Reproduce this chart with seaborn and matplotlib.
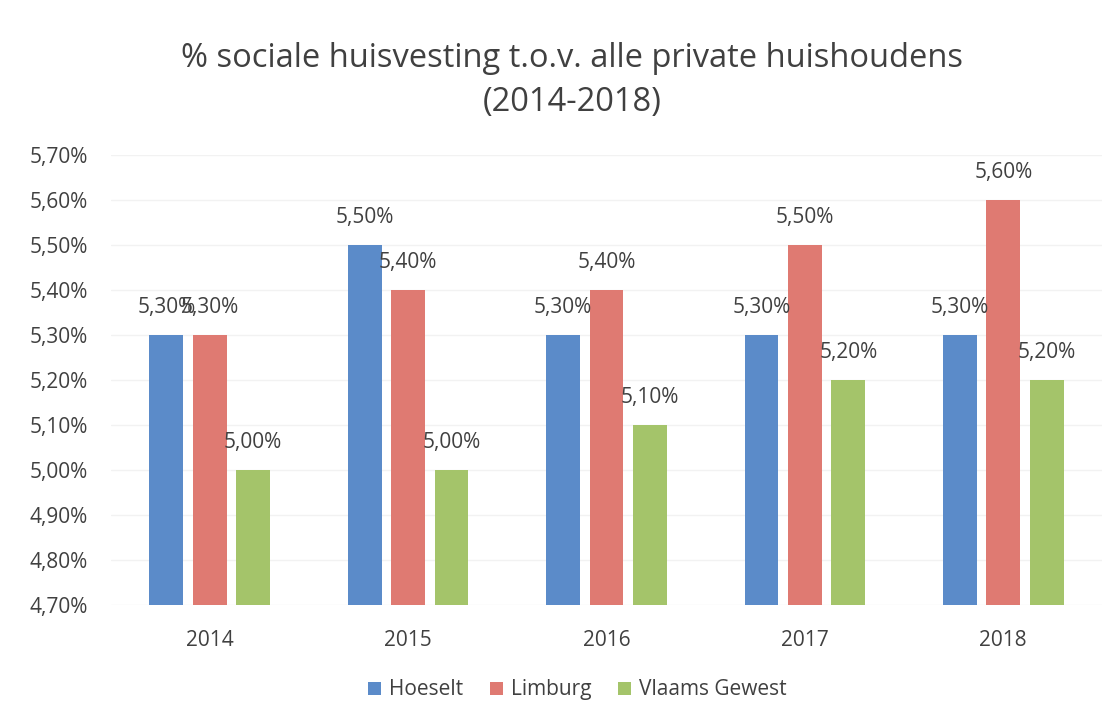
import matplotlib
matplotlib.use("Agg")
import matplotlib.pyplot as plt
import seaborn as sns
import pandas as pd

years = ["2014", "2015", "2016", "2017", "2018"]
regions = ["Hoeselt", "Limburg", "Vlaams Gewest"]
hoeselt = [5.30, 5.50, 5.30, 5.30, 5.30]
limburg = [5.30, 5.40, 5.40, 5.50, 5.60]
vlaams = [5.00, 5.00, 5.10, 5.20, 5.20]
yticks = [4.70, 4.80, 4.90, 5.00, 5.10, 5.20, 5.30, 5.40, 5.50, 5.60, 5.70]

colors = ["#5b8bc9", "#df7a72", "#a4c46a"]

df = pd.DataFrame({
    "jaar": years * 3,
    "regio": [regions[0]] * 5 + [regions[1]] * 5 + [regions[2]] * 5,
    "waarde": hoeselt + limburg + vlaams,
})

sns.set_theme(style="white")
plt.rcParams["font.family"] = ["Open Sans", "DejaVu Sans"]

fig = plt.figure(figsize=(11.17, 7.01), dpi=100)
ax = fig.add_axes([0.099, 0.137, 0.888, 0.642])

sns.barplot(data=df, x="jaar", y="waarde", hue="regio", order=years,
            hue_order=regions, palette=colors, width=0.657, gap=0.224,
            saturation=1, linewidth=0, ax=ax, legend=True)

ax.set_ylim(4.70, 5.70)
ax.set_yticks(yticks)
ax.set_yticklabels([f"{v:.2f}%".replace(".", ",") for v in yticks],
                   fontsize=15, color="#404040")
ax.tick_params(axis="x", labelsize=15, labelcolor="#404040", length=0, pad=18)
ax.tick_params(axis="y", length=0, pad=16.5)
ax.set_xlabel("")
ax.set_ylabel("")
ax.grid(axis="y", color="#f2f2f2", linewidth=1)
ax.set_axisbelow(True)
for s in ax.spines.values():
    s.set_visible(False)

for cont in ax.containers:
    ax.bar_label(cont, labels=[f"{v:.2f}%".replace(".", ",") for v in cont.datavalues],
                 padding=12, fontsize=15, color="#404040")

fig.suptitle("% sociale huisvesting t.o.v. alle private huishoudens\n(2014-2018)",
             x=0.512, y=0.94, fontsize=23.5, color="#404040", linespacing=1.45)

handles, labels = ax.get_legend_handles_labels()
ax.legend_.remove()
fig.legend(handles, labels, loc="lower center", bbox_to_anchor=(0.517, -0.026),
           ncol=3, frameon=False, fontsize=15, handlelength=0.6, handleheight=0.6,
           handletextpad=0.4, columnspacing=1.3, labelcolor="#404040")

fig.savefig("out.png", dpi=100, facecolor="white")
